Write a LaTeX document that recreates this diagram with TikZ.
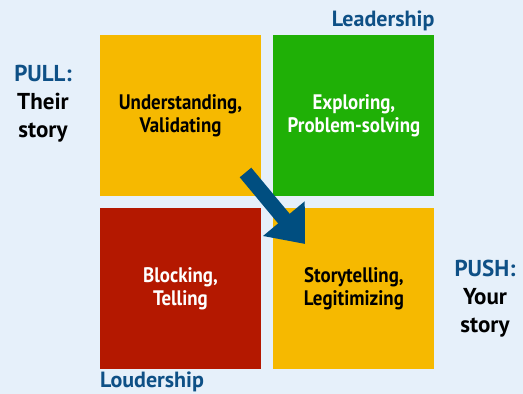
\documentclass[tikz,border=0pt]{standalone}
\usepackage{fontspec}
\setmainfont{PT Sans}[FakeStretch=0.9]
\newfontfamily\labelfont{PT Sans}
\usepackage{xcolor}
\usetikzlibrary{arrows.meta,positioning}
\definecolor{BackColor}{RGB}{230,240,250}
\definecolor{GoldColor}{RGB}{246,185,0}
\definecolor{GrassColor}{RGB}{31,176,6}
\definecolor{BrickColor}{RGB}{180,24,0}
\definecolor{NavyColor}{RGB}{0,78,128}
\definecolor{HeadColor}{RGB}{14,80,134}

\begin{document}
\begin{tikzpicture}[x=1pt, y=-1pt, node distance=12pt, >=Latex,
    font=\bfseries\fontsize{21}{23}\selectfont,
    quad/.style={minimum size=161pt, inner sep=0pt, align=center},
    side/.style={align=center, font=\labelfont\bfseries\fontsize{23}{28}\selectfont},
    heading/.style={HeadColor, inner sep=0pt, font=\labelfont\bfseries\fontsize{22}{24}\selectfont}]
  \fill[BackColor] (0,0) rectangle (523,394);
  % the four quadrants
  \node[quad, fill=GoldColor] (tl) at (180.5,115.5) {Understanding,\\Validating};
  \node[quad, fill=GrassColor, text=white, right=of tl] (tr) {Exploring,\\Problem-solving};
  \node[quad, fill=BrickColor, text=white, below=of tl] (bl) {Blocking,\\Telling};
  \node[quad, fill=GoldColor, right=of bl] (br) {Storytelling,\\Legitimizing};
  % axis labels
  \node[heading, anchor=base east] (lead) at ([yshift=8pt]tr.north east) {Leadership};
  \node[heading, anchor=base west] (loud) at ([yshift=-18pt]bl.south west) {Loudership};
  \node[side] (pull) at (43,104) {\textcolor{HeadColor}{PULL:}\\Their\\story};
  \node[side] (push) at (485,299) {\textcolor{HeadColor}{PUSH:}\\Your\\story};
  % shift from pull to push
  \coordinate (from) at (245.5,172.5);
  \coordinate (to) at (305,244);
  \draw[NavyColor, line width=15pt, -{Triangle[length=33pt, width=52pt]}] (from) -- (to);
\end{tikzpicture}
\end{document}
